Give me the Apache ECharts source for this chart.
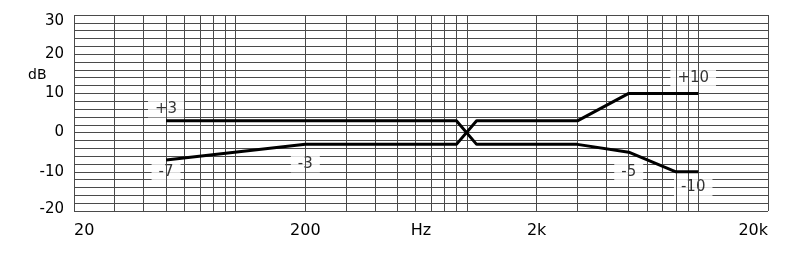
<!DOCTYPE html>
<html><head><meta charset="utf-8">
<script src="https://cdn.jsdelivr.net/npm/echarts@6/dist/echarts.min.js"></script>
<style>html,body{margin:0;padding:0;background:#fff}#c{width:800px;height:261px}</style>
</head><body><div id="c"></div>
<script>
const xTickValues = [20, 200, 2000, 20000];
const xTickLabels = ['20', '200', '2k', '20k'];
const xAxisName = 'Hz';
const yAxisName = 'dB';
const gridFreqs = [20,30,40,50,60,70,80,90,100,200,300,400,500,600,700,800,900,1000,2000,3000,4000,5000,6000,7000,8000,9000,10000,20000];
const curveAFreq = [50, 900, 1100, 3000, 5000, 8000, 10000];
const curveADb = [3, 3, -3, -3, -5, -10, -10];
const curveBFreq = [50, 200, 900, 1100, 3000, 5000, 10000];
const curveBDb = [-7, -3, -3, 3, 3, 10, 10];
const noteFreq = [50, 50, 200, 9500, 5000, 9500];
const noteDb = [6, -10, -8, 14, -10, -14];
const noteText = ['+3', '-7', '-3', '+10', '-5', '-10'];

const FONT = 'DejaVu Sans';
const GRID = '#4a4a4a';
const Y_MIN = -20, Y_MAX = 30;
const chart = echarts.init(document.getElementById('c'), null, {renderer: 'canvas'});
function xLabel(v) {
  for (let i = 0; i < xTickValues.length; i++) {
    if (Math.abs(v - xTickValues[i]) / xTickValues[i] < 1e-3) return xTickLabels[i];
  }
  return '';
}
function yLabel(v) {
  const r = Math.round(v);
  if (r % 10 !== 0) return '';
  if (r === Y_MIN) return '{lo|' + r + '}';
  if (r === Y_MAX) return '{hi|' + r + '}';
  return String(r);
}
chart.setOption({
  animation: false,
  backgroundColor: '#fff',
  grid: {left: 74, right: 32, top: 15, bottom: 50},
  xAxis: {
    type: 'log', logBase: 10, min: 20, max: 20000,
    name: xAxisName, nameLocation: 'middle', nameGap: 12, nameMoveOverlap: false,
    nameTextStyle: {color: '#000', fontFamily: FONT, fontSize: 16, verticalAlign: 'top'},
    axisLine: {show: false}, axisTick: {show: false}, splitLine: {show: false},
    axisLabel: {
      customValues: xTickValues, formatter: xLabel, margin: 12,
      color: '#000', fontFamily: FONT, fontSize: 16,
      alignMinLabel: 'left', alignMaxLabel: 'right'
    }
  },
  yAxis: {
    type: 'value', min: Y_MIN, max: Y_MAX, interval: 2,
    axisLine: {show: false}, axisTick: {show: false},
    splitLine: {show: true, lineStyle: {color: GRID, width: 1}},
    axisLabel: {
      margin: 10, color: '#000', fontFamily: FONT, fontSize: 15,
      formatter: yLabel,
      rich: {
        lo: {fontFamily: FONT, fontSize: 15, color: '#000', padding: [0, 0, 4, 0]},
        hi: {fontFamily: FONT, fontSize: 15, color: '#000', padding: [12, 0, 0, 0]}
      }
    }
  },
  graphic: [{
    type: 'text', left: 28, top: 68,
    style: {text: yAxisName, font: '14px "DejaVu Sans"', fill: '#000'}
  }],
  series: [
    {
      type: 'line', data: [], silent: true, z: 1,
      markLine: {
        silent: true, symbol: 'none', animation: false,
        label: {show: false},
        lineStyle: {color: GRID, width: 1, type: 'solid'},
        data: gridFreqs.map(f => ({xAxis: f}))
      }
    },
    {
      type: 'scatter', z: 3, symbolSize: 0, silent: true,
      data: noteFreq.map((f, i) => ({value: [f, noteDb[i]], name: noteText[i]})),
      label: {
        show: true, position: 'inside', formatter: p => p.name,
        color: '#000', fontFamily: FONT, fontSize: 15,
        backgroundColor: '#fff', padding: [1, 7]
      }
    },
    {
      type: 'line', z: 5, symbol: 'none', silent: true,
      lineStyle: {color: '#000', width: 3},
      data: curveAFreq.map((f, i) => [f, curveADb[i]])
    },
    {
      type: 'line', z: 5, symbol: 'none', silent: true,
      lineStyle: {color: '#000', width: 3},
      data: curveBFreq.map((f, i) => [f, curveBDb[i]])
    }
  ]
});
</script></body></html>
